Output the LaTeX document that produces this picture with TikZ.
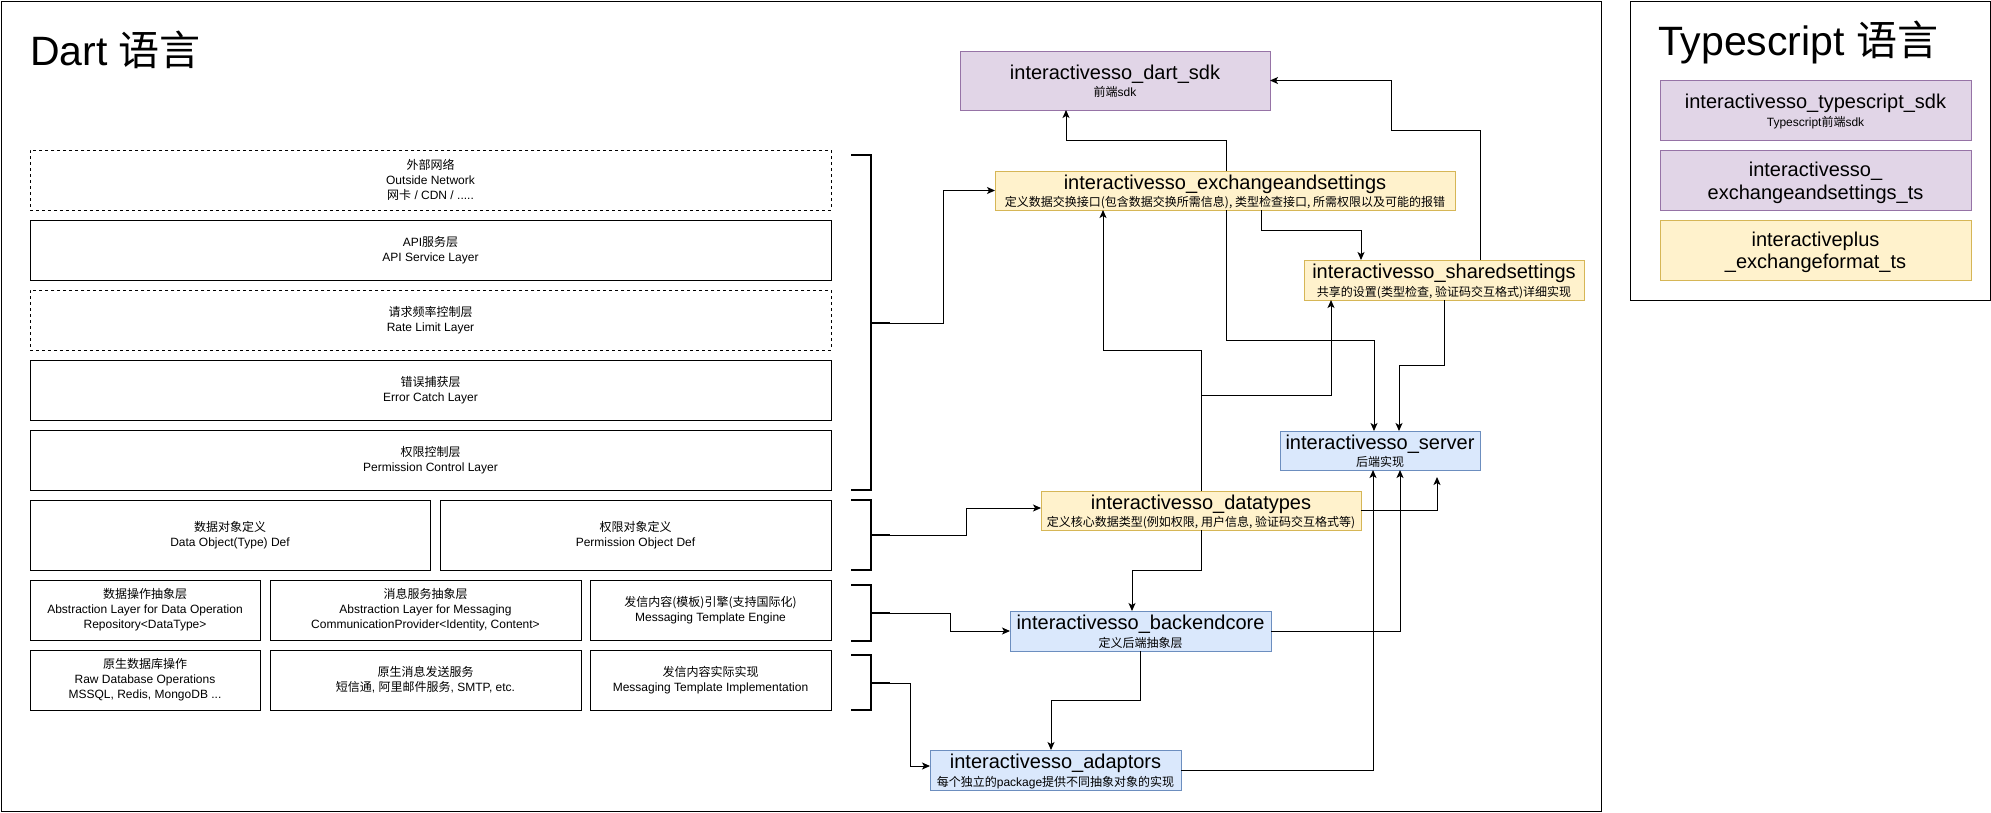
\documentclass[tikz,border=0pt]{standalone}
\usepackage{fontspec}
\setmainfont{Liberation Sans}
\newfontfamily\cjk{Noto Sans CJK SC}
\newcommand\zh[1]{{\cjk #1}}
\usetikzlibrary{arrows.meta}
\definecolor{pfill}{HTML}{E1D5E7}
\definecolor{pline}{HTML}{9673A6}
\definecolor{yfill}{HTML}{FFF2CC}
\definecolor{yline}{HTML}{D6B656}
\definecolor{bfill}{HTML}{DAE8FC}
\definecolor{bline}{HTML}{6C8EBF}
\tikzset{
  every node/.style={inner sep=0pt, outer sep=0pt},
  outerframe/.style={draw=black, line width=1pt},
  layerbox/.style={draw=black, line width=1pt},
  dlayerbox/.style={draw=black, line width=1pt, dash pattern=on 3pt off 3pt},
  purplebox/.style={draw=pline, fill=pfill, line width=1pt},
  yellowbox/.style={draw=yline, fill=yfill, line width=1pt},
  bluebox/.style={draw=bline, fill=bfill, line width=1pt},
  ltext/.style={align=center, font=\fontsize{12}{15}\selectfont},
  ttext/.style={anchor=base, font=\fontsize{20}{24}\selectfont},
  stext/.style={anchor=base, font=\fontsize{12}{14}\selectfont},
  bigtitle/.style={anchor=base west, font=\fontsize{41}{48}\selectfont},
  brk/.style={line width=2pt},
  conn/.style={line width=1pt, -{Stealth[length=8pt,width=7pt,inset=2pt]}},
}
\newcommand\bx[6]{\node[#2, minimum width={#5-#3}, minimum height={#6-#4}] (#1) at ({(#3+#5)/2},{(#4+#6)/2}) {};}
\newcommand\ttl[3]{\node[ttext] (#1-t) at ([yshift=1.5pt]#1.center) {#2};
  \node[stext] (#1-s) at ([yshift=-16.3pt]#1.center) {#3};}
\begin{document}
\begin{tikzpicture}[x=1pt,y=-1pt]
\useasboundingbox (0,0) rectangle (1991,812);
% frames
\bx{dartframe}{outerframe}{1}{1}{1601}{811}
\bx{tsframe}{outerframe}{1630}{1}{1990}{300}
\node[bigtitle] (darttitle) at (30,65) {Dart \zh{语言}};
\node[bigtitle] (tstitle) at (1658,55) {Typescript \zh{语言}};

% left layers
\bx{L1}{dlayerbox}{30}{150}{831}{210}
\node[ltext] (L1t) at (L1.center) {\zh{外部网络}\\Outside Network\\\zh{网卡} / CDN / .....};
\bx{L2}{layerbox}{30}{220}{831}{280}
\node[ltext] (L2t) at (L2.center) {API\zh{服务层}\\API Service Layer};
\bx{L3}{dlayerbox}{30}{290}{831}{350}
\node[ltext] (L3t) at (L3.center) {\zh{请求频率控制层}\\Rate Limit Layer};
\bx{L4}{layerbox}{30}{360}{831}{420}
\node[ltext] (L4t) at (L4.center) {\zh{错误捕获层}\\Error Catch Layer};
\bx{L5}{layerbox}{30}{430}{831}{490}
\node[ltext] (L5t) at (L5.center) {\zh{权限控制层}\\Permission Control Layer};
\bx{A1}{layerbox}{30}{500}{430}{570}
\node[ltext] (A1t) at (A1.center) {\zh{数据对象定义}\\Data Object(Type) Def};
\bx{A2}{layerbox}{440}{500}{831}{570}
\node[ltext] (A2t) at (A2.center) {\zh{权限对象定义}\\Permission Object Def};
\bx{B1}{layerbox}{30}{580}{260}{640}
\node[ltext] (B1t) at (B1.center) {\zh{数据操作抽象层}\\Abstraction Layer for Data Operation\\Repository<DataType>};
\bx{B2}{layerbox}{270}{580}{581}{640}
\node[ltext] (B2t) at (B2.center) {\zh{消息服务抽象层}\\Abstraction Layer for Messaging\\CommunicationProvider<Identity, Content>};
\bx{B3}{layerbox}{590}{580}{831}{640}
\node[ltext] (B3t) at (B3.center) {\zh{发信内容(模板)引擎(支持国际化)}\\Messaging Template Engine};
\bx{C1}{layerbox}{30}{650}{260}{710}
\node[ltext] (C1t) at (C1.center) {\zh{原生数据库操作}\\Raw Database Operations\\MSSQL, Redis, MongoDB ...};
\bx{C2}{layerbox}{270}{650}{581}{710}
\node[ltext] (C2t) at (C2.center) {\zh{原生消息发送服务}\\\zh{短信通}, \zh{阿里邮件服务}, SMTP, etc.};
\bx{C3}{layerbox}{590}{650}{831}{710}
\node[ltext] (C3t) at (C3.center) {\zh{发信内容实际实现}\\Messaging Template Implementation};

% brackets
\draw[brk] (851,155) -- (871,155) -- (871,490) -- (851,490);
\draw[brk] (871,323) -- (890,323) coordinate (b1t);
\draw[brk] (851,500) -- (871,500) -- (871,570) -- (851,570);
\draw[brk] (871,535) -- (890,535) coordinate (b2t);
\draw[brk] (851,585) -- (871,585) -- (871,641) -- (851,641);
\draw[brk] (871,613) -- (890,613) coordinate (b3t);
\draw[brk] (851,655) -- (871,655) -- (871,710) -- (851,710);
\draw[brk] (871,683) -- (890,683) coordinate (b4t);

% package boxes
\bx{sdk}{purplebox}{960}{51}{1270}{110}
\bx{exch}{yellowbox}{995}{171}{1455}{210}
\bx{shared}{yellowbox}{1304}{260}{1584}{300}
\bx{server}{bluebox}{1280}{431}{1480}{470}
\bx{dt}{yellowbox}{1041}{491}{1361}{530}
\bx{bc}{bluebox}{1010}{611}{1271}{651}
\bx{ad}{bluebox}{930}{750}{1181}{790}
\bx{ts1}{purplebox}{1660}{80}{1971}{140}
\bx{ts2}{purplebox}{1660}{150}{1971}{210}
\bx{ts3}{yellowbox}{1660}{220}{1971}{280}

\ttl{sdk}{interactivesso\_dart\_sdk}{\zh{前端}sdk}
\ttl{exch}{interactivesso\_exchangeandsettings}{\zh{定义数据交换接口(包含数据交换所需信息), 类型检查接口, 所需权限以及可能的报错}}
\ttl{shared}{interactivesso\_sharedsettings}{\zh{共享的设置(类型检查, 验证码交互格式)详细实现}}
\ttl{server}{interactivesso\_server}{\zh{后端实现}}
\ttl{dt}{interactivesso\_datatypes}{\zh{定义核心数据类型(例如权限, 用户信息, 验证码交互格式等)}}
\ttl{bc}{interactivesso\_backendcore}{\zh{定义后端抽象层}}
\ttl{ad}{interactivesso\_adaptors}{\zh{每个独立的}package\zh{提供不同抽象对象的实现}}
\ttl{ts1}{interactivesso\_typescript\_sdk}{Typescript\zh{前端}sdk}
\node[ttext] (ts2-a) at ([yshift=4pt]ts2.center) {interactivesso\_};
\node[ttext] (ts2-b) at ([yshift=-19pt]ts2.center) {exchangeandsettings\_ts};
\node[ttext] (ts3-a) at ([yshift=3.5pt]ts3.center) {interactiveplus};
\node[ttext] (ts3-b) at ([yshift=-18.5pt]ts3.center) {\_exchangeformat\_ts};

% connectors from brackets
\draw[conn] (b1t) -| (943,250) |- (exch.west);
\draw[conn] (b2t) -| (966,520) |- ([yshift=2.5pt]dt.west);
\draw[conn] (b3t) -| (950,620) |- (bc.west);
\draw[conn] (b4t) -| (910,720) |- ([yshift=4pt]ad.west);

% connectors between packages
\draw[conn] (1226,0 |- exch.north) |- (1066,140) -- (1066,0 |- sdk.south);
\draw[conn] (1480,0 |- shared.north) |- (1391,130) |- (sdk.east);
\draw[conn] (1261,0 |- exch.south) |- (1361,230) -- (1361,0 |- shared.north);
\draw[conn] (1226,0 |- exch.south) |- (1374,340) -- (1374,0 |- server.north);
\draw[conn] (1444,0 |- shared.south) |- (1399,365) -- (1399,0 |- server.north);
\draw[conn] (1201,0 |- dt.north) |- (1103,350) -- (1103,0 |- exch.south);
\draw[conn] (1201,0 |- dt.north) |- (1331,395) -- (1331,0 |- shared.south);
\coordinate (srvin) at (1437,477);
\draw[conn] (dt.east) -| (srvin);
\draw[conn] (1201,0 |- dt.south) |- (1132,570) -- (1132,0 |- bc.north);
\draw[conn] (bc.east) -| (1400,0 |- server.south);
\draw[conn] (1140,0 |- bc.south) |- (1051,700) -- (1051,0 |- ad.north);
\draw[conn] (ad.east) -| (1373,0 |- server.south);
\end{tikzpicture}
\end{document}
